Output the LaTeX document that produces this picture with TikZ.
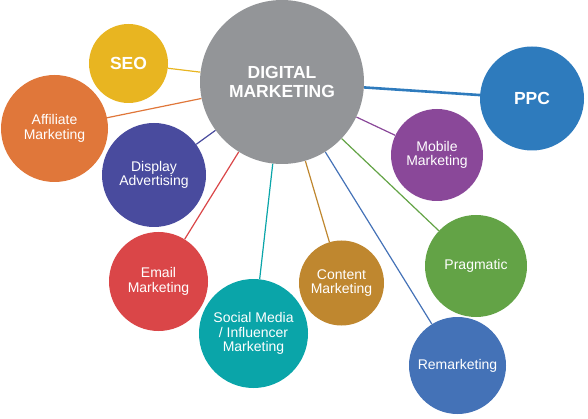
\documentclass[tikz,border=0pt]{standalone}
\usepackage{fontspec}
\setmainfont{Liberation Sans}
\usepackage{tikz}
\usetikzlibrary{positioning, backgrounds}

\definecolor{dm_gray}{HTML}{939598}
\definecolor{seo_yellow}{HTML}{E8B521}
\definecolor{affiliate_orange}{HTML}{E0773A}
\definecolor{display_blue}{HTML}{494B9E}
\definecolor{email_red}{HTML}{DA4648}
\definecolor{social_teal}{HTML}{0AA5A9}
\definecolor{content_brown}{HTML}{BF872F}
\definecolor{remarketing_blue}{HTML}{4472B7}
\definecolor{pragmatic_green}{HTML}{63A346}
\definecolor{mobile_purple}{HTML}{8A4899}
\definecolor{ppc_blue}{HTML}{2E7BBD}

\begin{document}
\begin{tikzpicture}[x=1pt, y=-1pt]
	\tikzstyle{bubble_style}=[circle, inner sep=0pt, align=center, text=white, font=\fontsize{14}{14.5}\selectfont]
	\tikzstyle{bold_style}=[font=\bfseries\fontsize{17.5}{19}\selectfont]
	\tikzstyle{link_style}=[line width=1.2pt]
	\useasboundingbox (0,0) rectangle (588,419);
	% centre
	\node at (282,82) [bubble_style, bold_style, fill=dm_gray, minimum size=164pt] (digital_marketing) {DIGITAL\\MARKETING};
	% left side
	\node at (128.5,63.5) [bubble_style, bold_style, fill=seo_yellow, minimum size=79pt] (seo) {SEO};
	\node at (54.5,128.5) [bubble_style, fill=affiliate_orange, minimum size=107pt] (affiliate) {Affiliate\\Marketing};
	\node at (154,175) [bubble_style, fill=display_blue, minimum size=104pt] (display) {Display\\Advertising};
	\node at (158.5,281.5) [bubble_style, fill=email_red, minimum size=99pt] (email) {Email\\Marketing};
	% bottom
	\node at (253.5,333.5) [bubble_style, fill=social_teal, minimum size=109pt] (social) {Social Media\\/ Influencer\\Marketing};
	\node at (341.5,283) [bubble_style, fill=content_brown, minimum size=85pt] (content) {Content\\Marketing};
	\node at (457.5,365.5) [bubble_style, fill=remarketing_blue, minimum size=97pt] (remarketing) {Remarketing};
	% right side
	\node at (476,266) [bubble_style, fill=pragmatic_green, minimum size=102pt] (pragmatic) {Pragmatic};
	\node at (437,155) [bubble_style, fill=mobile_purple, minimum size=92pt] (mobile) {Mobile\\Marketing};
	\node at (532,98.5) [bubble_style, bold_style, fill=ppc_blue, minimum size=104pt] (ppc) {PPC};
	% connect: digital marketing -> channels
	\begin{scope}[on background layer]
	\foreach \target/\col in {seo/seo_yellow, affiliate/affiliate_orange, display/display_blue, email/email_red, social/social_teal, content/content_brown, remarketing/remarketing_blue, pragmatic/pragmatic_green, mobile/mobile_purple}
		\draw[link_style, \col] (digital_marketing) -- (\target);
	\draw[line width=2.6pt, ppc_blue] (digital_marketing) -- (ppc);
	\end{scope}
\end{tikzpicture}
\end{document}
